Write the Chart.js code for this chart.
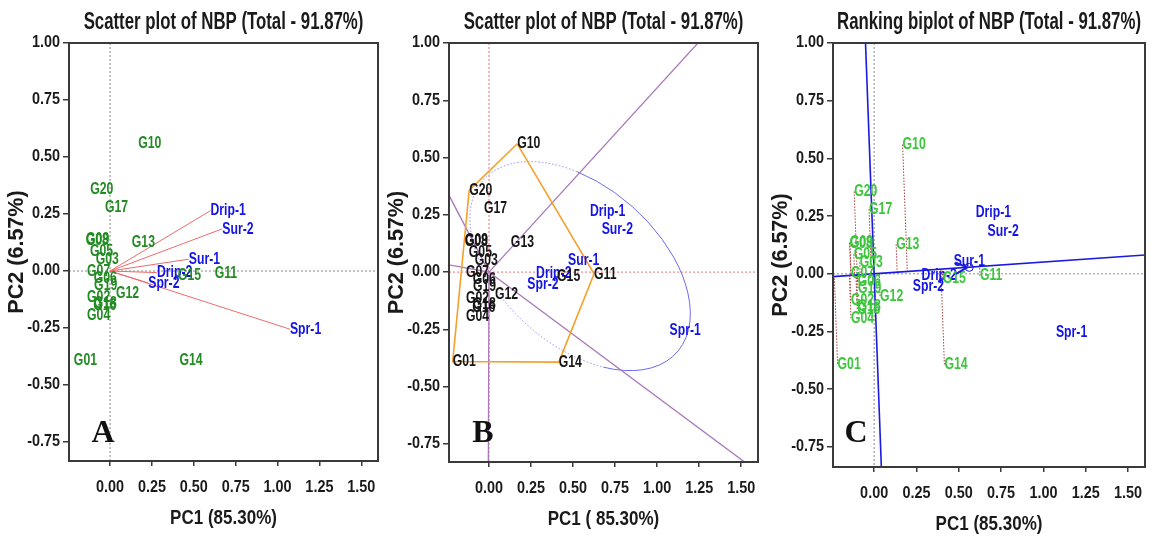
<!DOCTYPE html>
<html>
<head>
<meta charset="utf-8">
<script src="https://cdn.jsdelivr.net/npm/chart.js@4.4.1/dist/chart.umd.min.js"></script>
<style>
  body { margin: 0; background: #fff; width: 1153px; height: 537px; overflow: hidden; position: relative; }
  .panel { position: absolute; top: 0; height: 537px; }
</style>
</head>
<body>
<div class="panel" style="left:0;width:390px"><canvas id="chartA"></canvas></div>
<div class="panel" style="left:380px;width:390px"><canvas id="chartB"></canvas></div>
<div class="panel" style="left:764px;width:389px"><canvas id="chartC"></canvas></div>
<script>
// genotype scores (PC1, PC2)
const genotypes = ['G01','G02','G03','G04','G05','G06','G07','G08','G09','G10',
                   'G11','G12','G13','G14','G15','G16','G17','G18','G19','G20'];
const genoPC1 = [-0.216, -0.137, -0.085, -0.137, -0.120, -0.097, -0.137, -0.145, -0.143, 0.168,
                  0.625,  0.035,  0.130,  0.415,  0.405, -0.100, -0.030, -0.097, -0.095, -0.118];
const genoPC2 = [-0.390, -0.115,  0.050, -0.193,  0.085, -0.032,  0.000,  0.133,  0.137, 0.560,
                 -0.008, -0.096,  0.128, -0.393, -0.020, -0.152,  0.280, -0.140, -0.062, 0.357];

// environment scores
const environments = ['Drip-1','Drip-2','Sur-1','Sur-2','Spr-1','Spr-2'];
const envPC1 = [0.600, 0.280, 0.470, 0.670, 1.074, 0.228];
const envPC2 = [0.265, -0.007, 0.052, 0.185, -0.255, -0.052];

// which-won-where polygon vertices (panel B)
const polygonGenos = ['G10','G11','G14','G01','G20'];
// average environment coordinate (panel C)
const avgEnvPC = [0.55, 0.028];

const xTickValues = [0, 0.25, 0.5, 0.75, 1, 1.25, 1.5];
const xTickLabels = ['0.00','0.25','0.50','0.75','1.00','1.25','1.50'];
const yTickValues = [-0.75, -0.5, -0.25, 0, 0.25, 0.5, 0.75, 1];
const yTickLabels = ['-0.75','-0.50','-0.25','0.00','0.25','0.50','0.75','1.00'];

const SANS = '"Liberation Sans", Arial, sans-serif';

function drawText(ctx, text, x, y, font, color, sx, align, baseline, rot) {
    ctx.save();
    ctx.translate(x, y);
    if (rot) ctx.rotate(rot);
    ctx.scale(sx, 1);
    ctx.font = font;
    ctx.fillStyle = color;
    ctx.textAlign = align;
    ctx.textBaseline = baseline;
    ctx.fillText(text, 0, 0);
    ctx.restore();
}

const decor = {
    id: 'decor',
    beforeDatasetsDraw(chart, args, opts) {
        const { ctx, chartArea: ca } = chart;
        const xs = chart.scales.x, ys = chart.scales.y;
        ctx.save();
        ctx.beginPath();
        ctx.rect(ca.left, ca.top, ca.right - ca.left, ca.bottom - ca.top);
        ctx.clip();
        // dotted zero lines
        ctx.strokeStyle = opts.zeroColor;
        ctx.lineWidth = 1;
        ctx.setLineDash([2, 2]);
        const x0 = xs.getPixelForValue(0), y0 = ys.getPixelForValue(0);
        ctx.beginPath();
        ctx.moveTo(x0, ca.top); ctx.lineTo(x0, ca.bottom);
        ctx.moveTo(ca.left, y0); ctx.lineTo(ca.right, y0);
        ctx.stroke();
        ctx.setLineDash([]);
        // ellipse (panel B)
        if (opts.ellipse) {
            const e = opts.ellipse;
            const kx = xs.getPixelForValue(1) - xs.getPixelForValue(0);
            const ky = ys.getPixelForValue(0) - ys.getPixelForValue(1);
            const rad = Math.PI / 180;
            const seg = (t0, t1, dash, color) => {
                ctx.save();
                ctx.translate(xs.getPixelForValue(e.cx), ys.getPixelForValue(e.cy));
                ctx.scale(kx, -ky);
                ctx.rotate(e.angle * rad);
                ctx.beginPath();
                ctx.ellipse(0, 0, e.a, e.b, 0, t0 * rad, t1 * rad, false);
                ctx.restore();
                ctx.setLineDash(dash);
                ctx.strokeStyle = color;
                ctx.lineWidth = 1;
                ctx.stroke();
                ctx.setLineDash([]);
            };
            seg(e.solidFrom, e.solidTo, [], '#6b6bf0');
            seg(e.solidTo, e.solidFrom + 360, [1.5, 2], '#8c8cf0');
        }
        ctx.restore();
    },
    afterDatasetsDraw(chart, args, opts) {
        const { ctx } = chart;
        // text labels of point datasets
        chart.data.datasets.forEach((ds, i) => {
            if (!ds.labelTexts) return;
            const meta = chart.getDatasetMeta(i);
            meta.data.forEach((pt, j) => {
                drawText(ctx, ds.labelTexts[j], pt.x, pt.y, 'bold 17px ' + SANS, ds.labelColor, 0.72, 'left', 'middle');
            });
        });
        // average environment arrow (panel C)
        if (opts.arrow) {
            const xs = chart.scales.x, ys = chart.scales.y;
            const ox = xs.getPixelForValue(0), oy = ys.getPixelForValue(0);
            const tx = xs.getPixelForValue(opts.arrow[0]), ty = ys.getPixelForValue(opts.arrow[1]);
            const ang = Math.atan2(ty - oy, tx - ox);
            ctx.save();
            ctx.strokeStyle = '#1a1ae0';
            ctx.lineWidth = 2;
            ctx.beginPath();
            ctx.moveTo(tx - 13 * Math.cos(ang - 0.45), ty - 13 * Math.sin(ang - 0.45));
            ctx.lineTo(tx, ty);
            ctx.lineTo(tx - 13 * Math.cos(ang + 0.45), ty - 13 * Math.sin(ang + 0.45));
            ctx.stroke();
            ctx.lineWidth = 1;
            ctx.beginPath();
            ctx.arc(tx + 2, ty, 4, 0, Math.PI * 2);
            ctx.stroke();
            ctx.restore();
        }
    },
    afterDraw(chart, args, opts) {
        const { ctx, chartArea: ca } = chart;
        const xs = chart.scales.x, ys = chart.scales.y;
        // frame
        ctx.save();
        ctx.strokeStyle = '#3a3a3a';
        ctx.lineWidth = 2;
        ctx.strokeRect(ca.left, ca.top, ca.right - ca.left, ca.bottom - ca.top);
        ctx.restore();
        const tickFont = 'bold 16px ' + SANS;
        xTickValues.forEach((v, i) => {
            drawText(ctx, xTickLabels[i], xs.getPixelForValue(v), ca.bottom + 27, tickFont, '#1a1a1a', 0.9, 'center', 'middle');
        });
        yTickValues.forEach((v, i) => {
            drawText(ctx, yTickLabels[i], ca.left - 9, ys.getPixelForValue(v), tickFont, '#1a1a1a', 0.9, 'right', 'middle');
        });
        const cx = (ca.left + ca.right) / 2;
        drawText(ctx, opts.title, cx, 29, 'bold 24px ' + SANS, '#1a1a1a', 0.70, 'center', 'alphabetic');
        drawText(ctx, opts.xTitle, cx, ca.bottom + 57, 'bold 21px ' + SANS, '#1a1a1a', 0.81, 'center', 'middle');
        drawText(ctx, 'PC2 (6.57%)', ca.left - 52, (ca.top + ca.bottom) / 2, 'bold 22px ' + SANS, '#1a1a1a', 0.98, 'center', 'middle', -Math.PI / 2);
        drawText(ctx, opts.letter, ca.left + opts.letterOffset, 442, 'bold 32px "Liberation Serif", "Times New Roman", serif', '#111', 1, 'center', 'alphabetic');
    }
};

function pt(x, y) { return { x: x, y: y }; }

function labelSet(names, xs, ys, color) {
    return {
        data: names.map((n, i) => pt(xs[i], ys[i])),
        labelTexts: names, labelColor: color,
        pointRadius: 0, showLine: false
    };
}

function lineSet(points, color, width, dash) {
    return {
        data: points, showLine: true, pointRadius: 0,
        borderColor: color, borderWidth: width, borderDash: dash || [],
        tension: 0, fill: false
    };
}

function makeChart(id, datasets, range, deco, xHeight, padRight) {
    return new Chart(document.getElementById(id), {
        type: 'scatter',
        data: { datasets: datasets },
        options: {
            responsive: true,
            maintainAspectRatio: false,
            animation: false,
            events: [],
            layout: { padding: { top: 43, right: padRight, left: 0, bottom: 0 } },
            plugins: { legend: { display: false }, tooltip: { enabled: false }, decor: deco },
            scales: {
                x: {
                    type: 'linear', min: range.x[0], max: range.x[1],
                    afterBuildTicks: s => { s.ticks = xTickValues.map(v => ({ value: v })); },
                    afterFit: s => { s.height = xHeight; },
                    ticks: { display: false },
                    border: { display: false },
                    grid: { drawOnChartArea: false, drawTicks: true, tickLength: 5, color: '#3a3a3a', lineWidth: 1.5 }
                },
                y: {
                    type: 'linear', min: range.y[0], max: range.y[1],
                    afterBuildTicks: s => { s.ticks = yTickValues.map(v => ({ value: v })); },
                    afterFit: s => { s.width = 69; },
                    ticks: { display: false },
                    border: { display: false },
                    grid: { drawOnChartArea: false, drawTicks: true, tickLength: 6, color: '#3a3a3a', lineWidth: 1.5 }
                }
            }
        },
        plugins: [decor]
    });
}

const BLUE = '#1414e6';

// ---- Panel A: scatter with environment vectors
const dsA = environments.map((e, i) => lineSet([pt(0, 0), pt(envPC1[i], envPC2[i])], '#f06a6a', 1));
dsA.push(labelSet(environments, envPC1, envPC2, BLUE));
dsA.push(labelSet(genotypes, genoPC1, genoPC2, '#228b22'));
makeChart('chartA', dsA, { x: [-0.245, 1.6], y: [-0.833, 1.0] },
    { title: 'Scatter plot of NBP (Total - 91.87%)', xTitle: 'PC1 (85.30%)', letter: 'A', letterOffset: 34, zeroColor: '#8a8a8a' },
    76, 12);

// ---- Panel B: which-won-where polygon and sector rays
const hull = polygonGenos.map(g => { const i = genotypes.indexOf(g); return pt(genoPC1[i], genoPC2[i]); });
const dsB = [lineSet(hull.concat([hull[0]]), '#f5a02c', 1.6)];
hull.forEach((p, k) => {
    const q = hull[(k + 1) % hull.length];
    const dx = q.x - p.x, dy = q.y - p.y;
    const t = -(p.x * dx + p.y * dy) / (dx * dx + dy * dy);
    const fx = p.x + t * dx, fy = p.y + t * dy;      // foot of perpendicular from origin
    const len = Math.hypot(fx, fy);
    dsB.push(lineSet([pt(0, 0), pt(fx / len * 4, fy / len * 4)], '#a878b8', 1.3));
});
dsB.push(labelSet(environments, envPC1, envPC2, BLUE));
dsB.push(labelSet(genotypes, genoPC1, genoPC2, '#151515'));
makeChart('chartB', dsB, { x: [-0.238, 1.6], y: [-0.829, 1.0] },
    { title: 'Scatter plot of NBP (Total - 91.87%)', xTitle: 'PC1 ( 85.30%)', letter: 'B', letterOffset: 34, zeroColor: '#f07070',
      ellipse: { cx: 0.542, cy: 0.026, a: 0.703, b: 0.379, angle: -25.4, solidFrom: -63.5, solidTo: 106 } },
    75, 12);

// ---- Panel C: ranking biplot along the average environment axis
const ax = avgEnvPC[0], ay = avgEnvPC[1];
const an = Math.hypot(ax, ay), ux = ax / an, uy = ay / an;
const dsC = [
    lineSet([pt(-4 * ux, -4 * uy), pt(4 * ux, 4 * uy)], '#1a1ae0', 1.6),
    lineSet([pt(3 * uy, -3 * ux), pt(-3 * uy, 3 * ux)], '#1a1ae0', 1.6)
];
genotypes.forEach((g, i) => {
    const s = genoPC1[i] * ux + genoPC2[i] * uy;
    dsC.push(lineSet([pt(genoPC1[i], genoPC2[i]), pt(s * ux, s * uy)], '#a8403c', 1, [1.5, 1.5]));
});
dsC.push(labelSet(environments, envPC1, envPC2, BLUE));
dsC.push(labelSet(genotypes, genoPC1, genoPC2, '#3cc63c'));
makeChart('chartC', dsC, { x: [-0.243, 1.6], y: [-0.837, 1.0] },
    { title: 'Ranking biplot of NBP (Total - 91.87%)', xTitle: 'PC1 (85.30%)', letter: 'C', letterOffset: 23, zeroColor: '#8a8a8a',
      arrow: avgEnvPC },
    70, 8);
</script>
</body>
</html>
